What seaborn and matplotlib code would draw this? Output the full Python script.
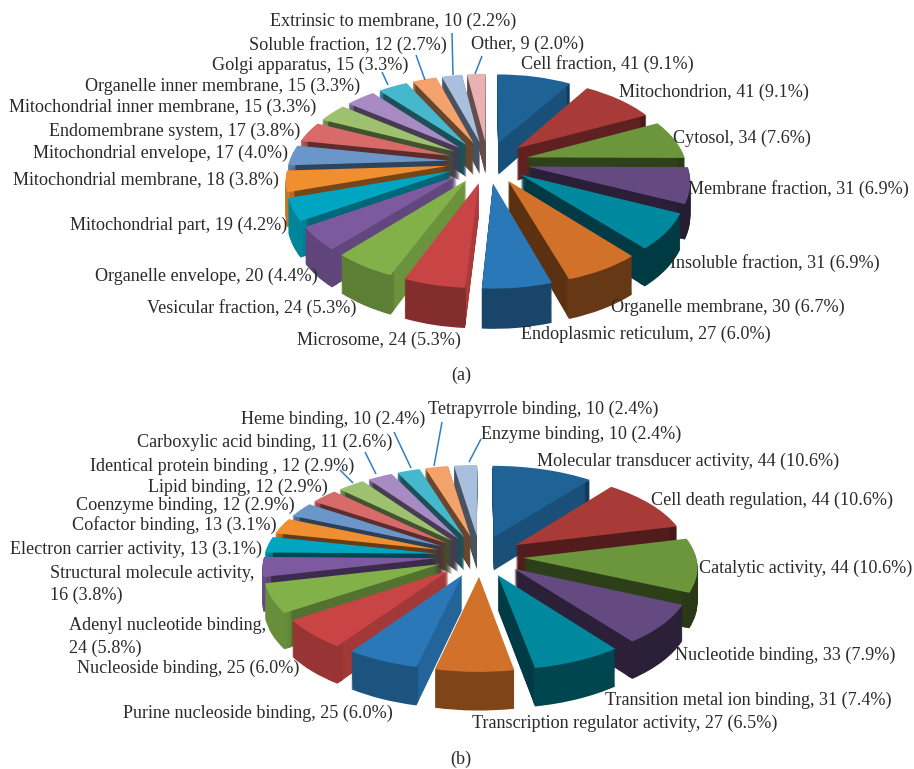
import numpy as np
import matplotlib
matplotlib.use("Agg")
import matplotlib.pyplot as plt
from matplotlib.transforms import Transform
import seaborn as sns

sns.set_theme(style="white")
plt.rcParams['font.family'] = ['Liberation Serif', 'DejaVu Serif']

# ---- data ----
cats_a = ["Cell fraction", "Mitochondrion", "Cytosol", "Membrane fraction", "Insoluble fraction",
          "Organelle membrane", "Endoplasmic reticulum", "Microsome", "Vesicular fraction",
          "Organelle envelope", "Mitochondrial part", "Mitochondrial membrane",
          "Mitochondrial envelope", "Endomembrane system", "Mitochondrial inner membrane",
          "Organelle inner membrane", "Golgi apparatus", "Soluble fraction",
          "Extrinsic to membrane", "Other"]
vals_a = [41, 41, 34, 31, 31, 30, 27, 24, 24, 20, 19, 18, 17, 17, 15, 15, 15, 12, 10, 9]
pct_a = ["9.1", "9.1", "7.6", "6.9", "6.9", "6.7", "6.0", "5.3", "5.3", "4.4", "4.2", "3.8",
         "4.0", "3.8", "3.3", "3.3", "3.3", "2.7", "2.2", "2.0"]
# slice sizes as they are drawn in the picture (differ slightly from the printed counts)
drawn_a = [40, 40, 33.5, 30.5, 30.5, 29.5, 26.5, 23.5, 24, 20, 19, 18, 17.5, 17.5, 16, 16, 16,
           13, 11, 10]

cats_b = ["Molecular transducer activity", "Cell death regulation", "Catalytic activity",
          "Nucleotide binding", "Transition metal ion binding", "Transcription regulator activity",
          "Purine nucleoside binding", "Nucleoside binding", "Adenyl nucleotide binding",
          "Structural molecule activity", "Electron carrier activity", "Cofactor binding",
          "Coenzyme binding", "Lipid binding", "Identical protein binding ",
          "Carboxylic acid binding", "Heme binding", "Tetrapyrrole binding", "Enzyme binding"]
vals_b = [44, 44, 44, 33, 31, 27, 25, 25, 24, 16, 13, 13, 12, 12, 12, 11, 10, 10, 10]
pct_b = ["10.6", "10.6", "10.6", "7.9", "7.4", "6.5", "6.0", "6.0", "5.8", "3.8", "3.1", "3.1",
         "2.9", "2.9", "2.9", "2.6", "2.4", "2.4", "2.4"]

palette = sns.color_palette(
    ["#1f6396", "#a83a38", "#6b963c", "#654a82", "#00889f", "#d2722a", "#2a78b8", "#c94545",
     "#82b14a", "#7d5a9f", "#00a5c1", "#ef8f2f", "#6a96c9", "#d86b6a", "#9dc16e", "#a88bc2",
     "#45b8ce", "#f3a26b", "#a9bfde", "#e8b1b2"])

# ---- layout (pixel positions of labels: left x, centre y) ----
pos_a = [(521, 64), (619, 92), (673, 138), (688, 189), (670, 263), (611, 307), (521, 334),
         (297, 340), (147, 308), (95, 276), (70, 225), (13, 180), (33, 153), (49, 131),
         (9, 107), (85, 86), (212, 65), (249, 45), (270, 21), (471, 44)]
pos_b = [(537, 461), (651, 500), (699, 568), (675, 655), (605, 700), (472, 723), (123, 713),
         (77, 668), (69, 626), (50, 573), (10, 549), (72, 525), (76, 505), (148, 487),
         (90, 466), (137, 442), (241, 419), (428, 409), (481, 434)]
wrap_b = {8, 9}
leaders = [((382, 72), (388, 85)), ((416, 55), (425, 80)), ((452, 33), (453, 75)),
           ((482, 56), (475, 74)), ((340, 470), (353, 483)), ((365, 452), (376, 474)),
           ((394, 432), (411, 468)), ((442, 422), (434, 466)), ((481, 439), (469, 462))]


class Tilt(Transform):
    """Perspective view of the unit pie plane, in figure pixels."""
    input_dims = output_dims = 2
    has_inverse = False

    def __init__(self, cx, cy, rx, ry, p, depth):
        super().__init__()
        self.args = (cx, cy, rx, ry, p, depth)

    def transform_non_affine(self, values):
        cx, cy, rx, ry, p, depth = self.args
        values = np.asarray(values, dtype=float)
        u, v = values[:, 0], values[:, 1]
        w = 1.0 / (1.0 + p * v)
        return np.column_stack([cx + rx * u * w, cy - ry * v * w + depth * w])


def shade(color, frac):
    return tuple(np.clip(np.array(color) * frac, 0, 1))


def tilted_pie(ax, values, cx, cy, rx, ry, p, depth, layers=36):
    vals = np.array(values, dtype=float)
    n = len(vals)
    ends = 360 * np.cumsum(vals) / vals.sum()
    starts = ends - 360 * vals / vals.sum()
    mids = (starts + ends) / 2
    cols = palette[:n]
    # outer rim: darker on the right, lighter on the left
    rim = [shade(c, 0.6 - 0.22 * np.sin(np.radians(m))) for c, m in zip(cols, mids)]
    # radial wall: brightness from the bearing of its outward normal
    normals = np.where(mids < 180, ends + 90, starts - 90)
    wall = [shade(c, np.interp(nb, [95, 130, 160, 185, 360], [0.85, 0.8, 0.5, 0.42, 0.45]))
            for c, nb in zip(cols, normals)]
    common = dict(explode=[0.2] * n, startangle=90, counterclock=False, frame=False)

    def place(wedges, d):
        tr = Tilt(cx, cy, rx, ry, p, d) + ax.transData
        for wd in wedges:
            wd.set_transform(tr)
            wd.set_clip_on(False)

    for i in range(layers, 0, -1):
        d = depth * i / layers
        w1, _ = ax.pie(vals, colors=wall, radius=0.785, wedgeprops=dict(linewidth=0), **common)
        place(w1, d)
        w2, _ = ax.pie(vals, colors=rim, radius=0.8, wedgeprops=dict(linewidth=0, width=0.035), **common)
        place(w2, d)
    w0, _ = ax.pie(vals, colors=cols, radius=0.8, wedgeprops=dict(linewidth=0), **common)
    place(w0, 0)


fig = plt.figure(figsize=(9.14, 7.69), dpi=100)
ax = fig.add_axes([0, 0, 1, 1])

tilted_pie(ax, drawn_a, 488, 162, 199, 104, 0.18, 33)
tilted_pie(ax, vals_b, 480, 556, 216, 102, 0.12, 34)

ax.set_aspect("auto")
ax.set_xlim(0, 914)
ax.set_ylim(769, 0)
ax.axis("off")

FS = 13.1
TXT = "#2a2a2a"
for c, n, pc, (x, y) in zip(cats_a, vals_a, pct_a, pos_a):
    ax.text(x, y, f"{c}, {n} ({pc}%)", fontsize=FS, color=TXT, va="center", ha="left")
for i, (c, n, pc, (x, y)) in enumerate(zip(cats_b, vals_b, pct_b, pos_b)):
    if i in wrap_b:
        ax.text(x, y, f"{c},", fontsize=FS, color=TXT, va="center", ha="left")
        ax.text(x, y + 22, f"{n} ({pc}%)", fontsize=FS, color=TXT, va="center", ha="left")
    else:
        ax.text(x, y, f"{c}, {n} ({pc}%)", fontsize=FS, color=TXT, va="center", ha="left")

for (x0, y0), (x1, y1) in leaders:
    ax.plot([x0, x1], [y0, y1], color="#2f7fc6", lw=1.1, solid_capstyle="butt")

ax.text(461, 375, "(a)", fontsize=FS, color=TXT, ha="center", va="center")
ax.text(461, 759, "(b)", fontsize=FS, color=TXT, ha="center", va="center")

fig.savefig("out.png", dpi=100, facecolor="white")
